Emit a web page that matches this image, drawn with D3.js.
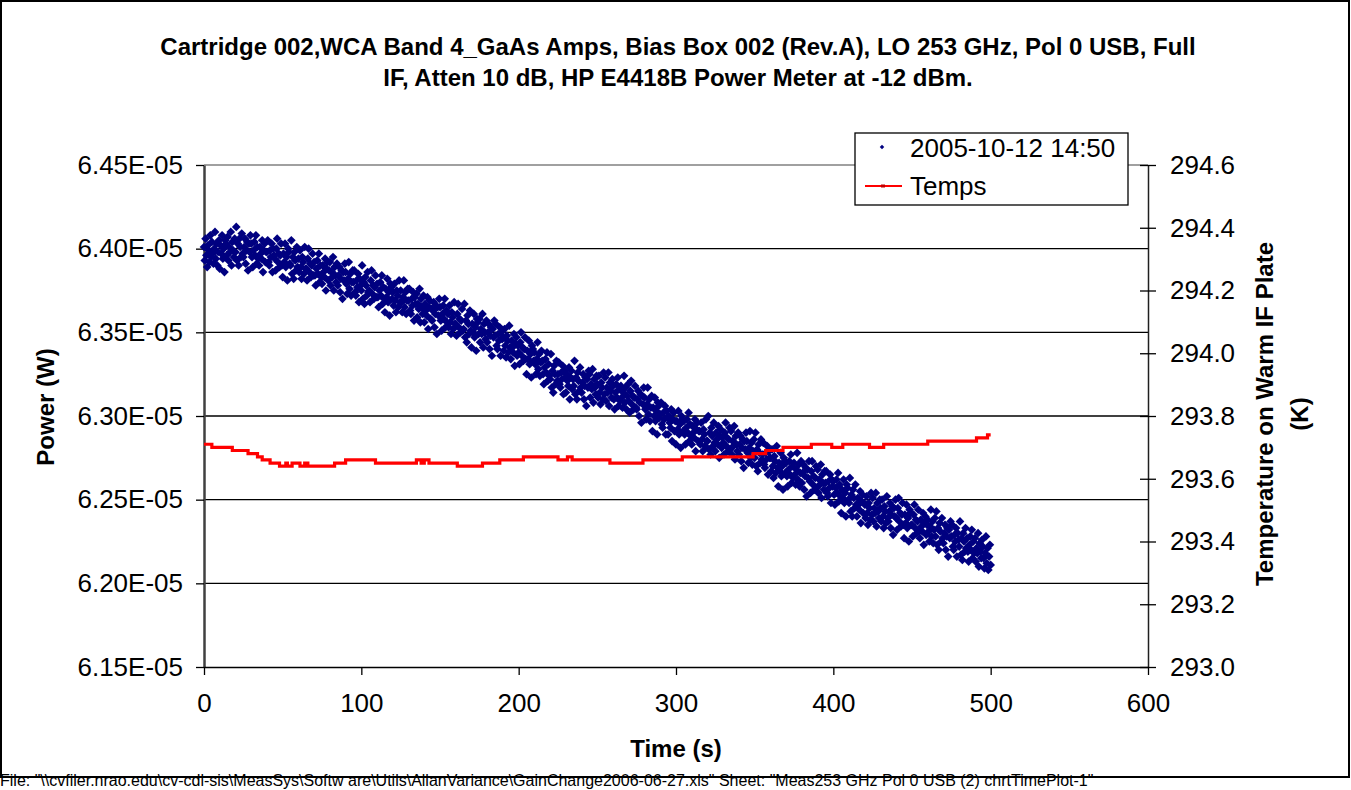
<!DOCTYPE html>
<html>
<head>
<meta charset="utf-8">
<script src="https://cdn.jsdelivr.net/npm/d3@7"></script>
<style>
    body { margin: 0; background: #fff; }
    svg { display: block; font-family: "Liberation Sans", Arial, sans-serif; }
</style>
</head>
<body>
<svg id="chart" width="1351" height="790"></svg>
<script>
// --- データ ---
// power meter readings in units of 1e-8 W, one reading every 0.5 s (t = 0 .. 500 s)
const powerE8 = [
    6401,6393,6406,6396,6389,6402,6399,6392,6408,6395, 6404,6397,6391,6400,6410,6394,6403,6390,6398,6405, 6388,6402,6397,6408,6394,6400,6386,6405,6403,6396, 6407,6393,6401,6398,6410,6390,6404,6399,6395,6406, 6398,6413,6393,6403,6390,6406,6401,6395,6409,6397,
    6395,6401,6406,6391,6399,6404,6387,6403,6398,6408, 6403,6395,6389,6399,6404,6396,6408,6391,6401,6394, 6390,6401,6397,6394,6405,6386,6399,6403,6392,6398, 6398,6405,6392,6390,6399,6395,6403,6386,6400,6396, 6394,6387,6400,6406,6392,6397,6389,6396,6403,6390,
    6383,6397,6392,6403,6389,6395,6381,6400,6398,6391, 6390,6405,6385,6395,6382,6398,6393,6387,6401,6389, 6394,6386,6399,6389,6382,6395,6392,6385,6401,6388, 6388,6381,6394,6400,6386,6391,6383,6390,6397,6384, 6392,6384,6378,6388,6393,6385,6397,6380,6390,6383,
    6379,6390,6386,6383,6394,6375,6388,6392,6381,6387, 6392,6378,6386,6383,6395,6375,6389,6384,6380,6391, 6378,6384,6389,6374,6382,6387,6370,6386,6381,6391, 6386,6379,6373,6382,6392,6376,6385,6372,6380,6387, 6380,6387,6374,6372,6381,6377,6385,6368,6382,6378,
    6375,6390,6370,6380,6367,6383,6378,6372,6386,6374, 6375,6368,6381,6387,6373,6378,6370,6377,6384,6371, 6379,6371,6365,6375,6380,6372,6384,6367,6377,6370, 6362,6376,6371,6382,6368,6374,6360,6379,6377,6370, 6374,6366,6379,6369,6362,6375,6372,6365,6381,6368,
    6375,6368,6362,6371,6381,6365,6374,6361,6369,6376, 6369,6376,6363,6361,6370,6366,6374,6357,6371,6367, 6373,6359,6367,6364,6376,6356,6370,6365,6361,6372, 6356,6367,6363,6360,6371,6352,6365,6369,6358,6364, 6357,6363,6368,6353,6361,6366,6349,6365,6360,6370,
    6365,6357,6351,6361,6366,6358,6370,6353,6363,6356, 6361,6353,6366,6356,6349,6362,6359,6352,6368,6355, 6355,6348,6361,6367,6353,6358,6350,6357,6364,6351, 6352,6367,6347,6357,6344,6360,6355,6349,6363,6351, 6341,6355,6350,6361,6347,6353,6339,6358,6356,6349,
    6358,6344,6352,6349,6361,6341,6355,6350,6346,6357, 6344,6350,6355,6340,6348,6353,6336,6352,6347,6357, 6348,6355,6342,6340,6349,6345,6353,6336,6350,6346, 6347,6339,6352,6342,6335,6348,6345,6338,6354,6341, 6334,6345,6341,6338,6349,6330,6343,6347,6336,6342,
    6338,6331,6344,6350,6336,6341,6333,6340,6347,6334, 6325,6339,6334,6345,6331,6337,6323,6342,6340,6333, 6338,6331,6325,6334,6344,6328,6337,6324,6332,6339, 6333,6325,6319,6329,6334,6326,6338,6321,6331,6324, 6322,6337,6317,6327,6314,6330,6325,6319,6333,6321,
    6325,6332,6319,6317,6326,6322,6330,6313,6327,6323, 6314,6325,6321,6318,6329,6310,6323,6327,6316,6322, 6318,6333,6313,6323,6310,6326,6321,6315,6329,6317, 6314,6320,6325,6310,6318,6323,6306,6322,6317,6327, 6325,6311,6319,6316,6328,6308,6322,6317,6313,6324,
    6319,6311,6324,6314,6307,6320,6317,6310,6326,6313, 6323,6309,6317,6314,6326,6306,6320,6315,6311,6322, 6318,6310,6304,6314,6319,6311,6323,6306,6316,6309, 6318,6311,6305,6314,6324,6308,6317,6304,6312,6319, 6309,6302,6315,6321,6307,6312,6304,6311,6318,6305,
    6304,6310,6315,6300,6308,6313,6296,6312,6307,6317, 6311,6304,6298,6307,6317,6301,6310,6297,6305,6312, 6291,6305,6300,6311,6297,6303,6289,6308,6306,6299, 6301,6308,6295,6293,6302,6298,6306,6289,6303,6299, 6289,6300,6296,6293,6304,6285,6298,6302,6291,6297,
    6283,6297,6292,6303,6289,6295,6281,6300,6298,6291, 6297,6289,6283,6293,6298,6290,6302,6285,6295,6288, 6283,6294,6290,6287,6298,6279,6292,6296,6285,6291, 6291,6283,6296,6286,6279,6292,6289,6282,6298,6285, 6285,6300,6280,6290,6277,6293,6288,6282,6296,6284,
    6279,6290,6286,6283,6294,6275,6288,6292,6281,6287, 6284,6277,6290,6296,6282,6287,6279,6286,6293,6280, 6291,6277,6285,6282,6294,6274,6288,6283,6279,6290, 6277,6283,6288,6273,6281,6286,6269,6285,6280,6290, 6285,6278,6272,6281,6291,6275,6284,6271,6279,6286,
    6275,6290,6270,6280,6267,6283,6278,6272,6286,6274, 6277,6284,6271,6269,6278,6274,6282,6265,6279,6275, 6275,6267,6280,6270,6263,6276,6273,6266,6282,6269, 6258,6272,6267,6278,6264,6270,6256,6275,6273,6266, 6272,6264,6258,6268,6273,6265,6277,6260,6270,6263,
    6272,6265,6259,6268,6278,6262,6271,6258,6266,6273, 6260,6266,6271,6256,6264,6269,6252,6268,6263,6273, 6261,6254,6267,6273,6259,6264,6256,6263,6270,6257, 6268,6254,6262,6259,6271,6251,6265,6260,6256,6267, 6260,6267,6254,6252,6261,6257,6265,6248,6262,6258,
    6261,6253,6247,6257,6262,6254,6266,6249,6259,6252, 6242,6256,6251,6262,6248,6254,6240,6259,6257,6250, 6248,6263,6243,6253,6240,6256,6251,6245,6259,6247, 6240,6251,6247,6244,6255,6236,6249,6253,6242,6248, 6247,6239,6252,6242,6235,6248,6245,6238,6254,6241,
    6251,6237,6245,6242,6254,6234,6248,6243,6239,6250, 6245,6237,6250,6240,6233,6246,6243,6236,6252,6239, 6237,6243,6248,6233,6241,6246,6229,6245,6240,6250, 6239,6232,6245,6251,6237,6242,6234,6241,6248,6235, 6227,6241,6236,6247,6233,6239,6225,6244,6242,6235,
    6235,6228,6241,6247,6233,6238,6230,6237,6244,6231, 6227,6238,6234,6231,6242,6223,6236,6240,6229,6235, 6238,6231,6225,6234,6244,6228,6237,6224,6232,6239, 6228,6243,6223,6233,6220,6236,6231,6225,6239,6227, 6224,6230,6235,6220,6228,6233,6216,6232,6227,6237,
    6228,6235,6222,6220,6229,6225,6233,6216,6230,6226, 6222,6237,6217,6227,6214,6230,6225,6219,6233,6221, 6227,6219,6213,6223,6228,6220,6232,6215,6225,6218, 6227,6213,6221,6218,6230,6210,6224,6219,6215,6226, 6222,6215,6209,6218,6228,6212,6221,6208,6216,6223,
    6211
];
const SAMPLE_DT = 0.5; // s

// warm IF plate temperature (K), value holds from each time until the next
const tempTimes = [0, 5, 18, 28, 34, 37, 42, 48, 52, 53, 56, 61, 64, 66, 83, 90, 109, 135, 138, 140, 143,
    161, 177, 188, 203, 225, 231, 234, 258, 279, 304, 349, 357, 368, 386, 399, 406, 423, 432, 460, 491, 498, 500];
const tempValues = [293.71, 293.70, 293.69, 293.68, 293.67, 293.66, 293.65, 293.64, 293.65, 293.64, 293.65, 293.64, 293.65, 293.64, 293.65, 293.66, 293.65, 293.66, 293.65, 293.66, 293.65,
    293.64, 293.65, 293.66, 293.67, 293.66, 293.67, 293.66, 293.65, 293.66, 293.67, 293.68, 293.69, 293.70, 293.71, 293.70, 293.71, 293.70, 293.71, 293.72, 293.73, 293.74, 293.74];

const xTicks = [0, 100, 200, 300, 400, 500, 600];
const powerTicks = [6.15e-5, 6.20e-5, 6.25e-5, 6.30e-5, 6.35e-5, 6.40e-5, 6.45e-5];
const tempTicks = [293.0, 293.2, 293.4, 293.6, 293.8, 294.0, 294.2, 294.4, 294.6];
const seriesNames = ["2005-10-12 14:50", "Temps"];

const titleLines = [
    "Cartridge 002,WCA Band 4_GaAs Amps, Bias Box 002 (Rev.A), LO 253 GHz, Pol 0 USB, Full",
    "IF, Atten 10 dB, HP E4418B Power Meter at -12 dBm."
];
const footerText = 'File: "\\\\cvfiler.nrao.edu\\cv-cdl-sis\\MeasSys\\Softw are\\Utils\\AllanVariance\\GainChange2006-06-27.xls"   Sheet: "Meas253 GHz  Pol 0  USB (2) chrtTimePlot-1"';

// --- レイアウト ---
const PLOT = { left: 204, right: 1148, top: 165, bottom: 667 };
const NAVY = "#000080";
const RED = "#ff0000";
const TICK_FONT = 26;

const svg = d3.select("#chart");

const x = d3.scaleLinear().domain([0, 600]).range([PLOT.left, PLOT.right]);
const yPower = d3.scaleLinear().domain([6.15e-5, 6.45e-5]).range([PLOT.bottom, PLOT.top]);
const yTemp = d3.scaleLinear().domain([293.0, 294.6]).range([PLOT.bottom, PLOT.top]);

// outer frame
svg.append("rect")
    .attr("x", 1).attr("y", 1)
    .attr("width", 1348).attr("height", 776)
    .attr("fill", "#fff")
    .attr("stroke", "#000")
    .attr("stroke-width", 2);

// title
svg.append("text")
    .attr("text-anchor", "middle")
    .attr("font-size", 24)
    .attr("font-weight", "bold")
    .selectAll("tspan")
    .data(titleLines)
    .enter()
    .append("tspan")
    .attr("x", 678)
    .attr("y", (d, i) => 55 + i * 31)
    .text((d) => d);

// gridlines at power ticks
svg.append("g")
    .selectAll("line")
    .data(powerTicks.slice(1))
    .enter()
    .append("line")
    .attr("x1", PLOT.left).attr("x2", PLOT.right)
    .attr("y1", (d) => yPower(d)).attr("y2", (d) => yPower(d))
    .attr("stroke", (d, i, a) => (i === a.length - 1 ? "#808080" : "#000"))
    .attr("stroke-width", 1.3);

// axes
function styleAxis(g) {
    g.selectAll("text")
        .attr("font-size", TICK_FONT)
        .attr("font-family", "'Liberation Sans', Arial, sans-serif")
        .attr("fill", "#000");
    g.selectAll("line").attr("stroke", "#000").attr("stroke-width", 1.3);
}

const leftAxis = svg.append("g")
    .attr("transform", `translate(${PLOT.left},0)`)
    .call(d3.axisLeft(yPower)
        .tickValues(powerTicks)
        .tickSize(8)
        .tickSizeOuter(0)
        .tickPadding(13)
        .tickFormat((d) => (d * 1e5).toFixed(2) + "E-05"));
styleAxis(leftAxis);
leftAxis.select(".domain").attr("stroke", "#404040").attr("stroke-width", 2.5);

const rightAxis = svg.append("g")
    .attr("transform", `translate(${PLOT.right},0)`)
    .call(d3.axisRight(yTemp)
        .tickValues(tempTicks)
        .tickSize(8)
        .tickSizeOuter(0)
        .tickPadding(14)
        .tickFormat(d3.format(".1f")));
styleAxis(rightAxis);
rightAxis.selectAll(".tick line").attr("x1", -8);
rightAxis.select(".domain").attr("stroke", "#202020").attr("stroke-width", 1.5);

const bottomAxis = svg.append("g")
    .attr("transform", `translate(0,${PLOT.bottom})`)
    .call(d3.axisBottom(x)
        .tickValues(xTicks)
        .tickSize(8)
        .tickSizeOuter(0)
        .tickPadding(19));
styleAxis(bottomAxis);
bottomAxis.select(".domain").attr("stroke", "#000").attr("stroke-width", 1.5);

// axis titles
svg.append("text")
    .attr("transform", "translate(54,407) rotate(-90)")
    .attr("text-anchor", "middle")
    .attr("font-size", 24)
    .attr("font-weight", "bold")
    .text("Power (W)");

svg.append("text")
    .attr("transform", "translate(1273,414) rotate(-90)")
    .attr("text-anchor", "middle")
    .attr("font-size", 24)
    .attr("font-weight", "bold")
    .selectAll("tspan")
    .data(["Temperature on Warm IF Plate", "(K)"])
    .enter()
    .append("tspan")
    .attr("x", 0)
    .attr("dy", (d, i) => (i === 0 ? 0 : 35))
    .text((d) => d);

svg.append("text")
    .attr("x", 676).attr("y", 757)
    .attr("text-anchor", "middle")
    .attr("font-size", 24)
    .attr("font-weight", "bold")
    .text("Time (s)");

// power scatter (diamonds)
const diamond = d3.symbol().type(d3.symbolSquare).size(38);
svg.append("g")
    .selectAll("path")
    .data(powerE8)
    .enter()
    .append("path")
    .attr("d", diamond)
    .attr("fill", NAVY)
    .attr("transform", (d, i) => `translate(${x(i * SAMPLE_DT)},${yPower(d * 1e-8)}) rotate(45)`);

// temperature step line
const tempData = tempTimes.map((t, i) => ({ t, v: tempValues[i] }));
svg.append("path")
    .datum(tempData)
    .attr("fill", "none")
    .attr("stroke", RED)
    .attr("stroke-width", 3.2)
    .attr("d", d3.line()
        .x((d) => x(d.t))
        .y((d) => yTemp(d.v))
        .curve(d3.curveStepAfter));

// legend
const legend = svg.append("g").attr("transform", "translate(855,133)");
legend.append("rect")
    .attr("width", 273).attr("height", 72)
    .attr("fill", "#fff")
    .attr("stroke", "#000")
    .attr("stroke-width", 1.3);
legend.append("path")
    .attr("d", d3.symbol().type(d3.symbolSquare).size(10))
    .attr("fill", NAVY)
    .attr("transform", "translate(27,14) rotate(45)");
legend.append("line")
    .attr("x1", 10).attr("x2", 47)
    .attr("y1", 53).attr("y2", 53)
    .attr("stroke", RED)
    .attr("stroke-width", 2);
legend.append("rect")
    .attr("x", 26).attr("y", 51.5)
    .attr("width", 4).attr("height", 3)
    .attr("fill", "#c00000");
legend.selectAll("text.entry")
    .data(seriesNames)
    .enter()
    .append("text")
    .attr("class", "entry")
    .attr("x", 55)
    .attr("y", (d, i) => 24 + i * 38)
    .attr("font-size", TICK_FONT)
    .text((d) => d);

// footer
svg.append("text")
    .attr("x", 0).attr("y", 786)
    .attr("font-size", 16)
    .text(footerText);
</script>
</body>
</html>
